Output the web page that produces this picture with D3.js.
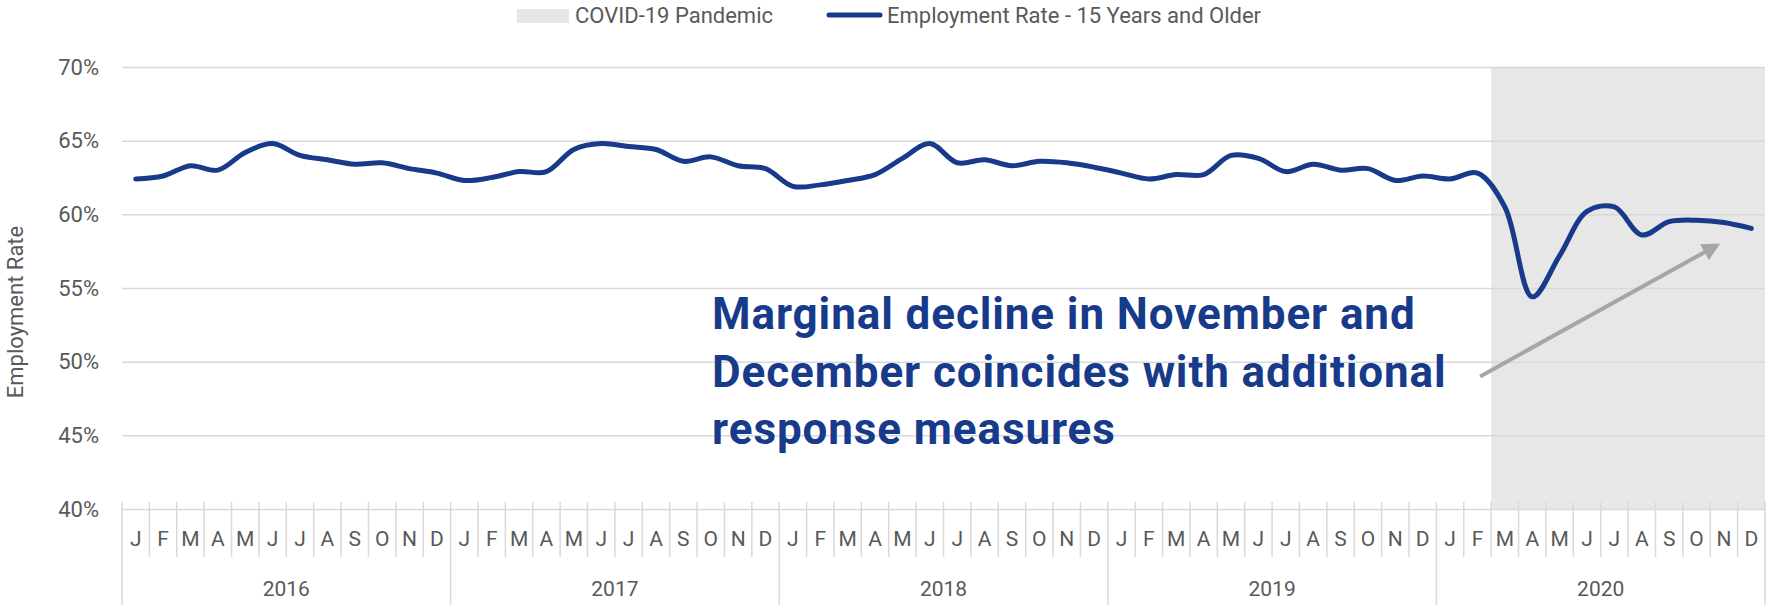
<!DOCTYPE html>
<html>
<head>
<meta charset="utf-8">
<script src="https://cdn.jsdelivr.net/npm/d3@7"></script>
<style>
body { margin: 0; background: #fff; }
text { font-family: Roboto, "Noto Sans", sans-serif; }
</style>
</head>
<body>
<div id="chart"></div>
<script>
const years = ["2016", "2017", "2018", "2019", "2020"];
const monthLetters = ["J", "F", "M", "A", "M", "J", "J", "A", "S", "O", "N", "D"];
const rate2016 = [62.4, 62.6, 63.3, 63.0, 64.2, 64.8, 64.0, 63.7, 63.4, 63.5, 63.1, 62.8];
const rate2017 = [62.3, 62.5, 62.9, 62.9, 64.4, 64.8, 64.6, 64.4, 63.6, 63.9, 63.3, 63.1];
const rate2018 = [61.9, 62.0, 62.3, 62.7, 63.8, 64.8, 63.5, 63.7, 63.3, 63.6, 63.5, 63.2];
const rate2019 = [62.8, 62.4, 62.7, 62.7, 64.0, 63.8, 62.9, 63.4, 63.0, 63.1, 62.3, 62.6];
const rate2020 = [62.4, 62.8, 60.5, 54.4, 57.2, 60.2, 60.5, 58.6, 59.5, 59.6, 59.45, 59.05];
const yTicks = [40, 45, 50, 55, 60, 65, 70];
const pandemicStart = "2020-2"; // March 2020
const seriesName = "Employment Rate - 15 Years and Older";
const shadeName = "COVID-19 Pandemic";
const noteLines = ["Marginal decline in November and", "December coincides with additional", "response measures"];

const W = 1767, H = 605;
const margin = { top: 67, right: 2, bottom: 96, left: 122 };
const grey = "#595959", gridCol = "#d9d9d9", blue = "#173a8a";

const ratesByYear = [rate2016, rate2017, rate2018, rate2019, rate2020];
const data = [];
years.forEach((yr, yi) => {
    ratesByYear[yi].forEach((v, mi) => {
        data.push({ key: yr + "-" + mi, year: yr, month: mi, rate: v });
    });
});

const svg = d3.select("#chart")
    .append("svg")
    .attr("width", W)
    .attr("height", H);

const x = d3.scaleBand()
    .domain(data.map(d => d.key))
    .range([margin.left, W - margin.right])
    .padding(0);
const y = d3.scaleLinear()
    .domain([40, 70])
    .range([H - margin.bottom, margin.top]);

// position along the month axis by (fractional) index
const xi = i => x.range()[0] + i * x.step();

// pandemic shading
svg.append("rect")
    .attr("x", x(pandemicStart))
    .attr("y", y(70))
    .attr("width", x.range()[1] - x(pandemicStart))
    .attr("height", y(40) - y(70))
    .attr("fill", "#e7e7e7");

// gridlines + y labels
const yAxis = svg.append("g")
    .attr("transform", `translate(${margin.left},0)`)
    .call(d3.axisLeft(y).tickValues(yTicks)
        .tickFormat(d => d + "%")
        .tickSize(-(x.range()[1] - x.range()[0]))
        .tickPadding(23));
yAxis.select(".domain").remove();
yAxis.selectAll("line").attr("stroke", gridCol).attr("stroke-width", 1.5);
yAxis.selectAll("text").attr("fill", grey).style("font-size", "22px");

svg.append("text")
    .attr("transform", `translate(23,${(y(40) + y(70)) / 2 + 24}) rotate(-90)`)
    .attr("text-anchor", "middle")
    .attr("fill", grey)
    .style("font-size", "22px")
    .text("Employment Rate");

// month axis
const base = y(40);
const xAxis = svg.append("g")
    .attr("transform", `translate(0,${base})`)
    .call(d3.axisBottom(x).tickSize(0).tickPadding(22)
        .tickFormat(k => monthLetters[+k.split("-")[1]]));
xAxis.select(".domain").remove();
xAxis.selectAll("text").attr("fill", grey).style("font-size", "21px");

const edges = data.map(d => ({ x: x(d.key), yearStart: d.month === 0 }));
edges.push({ x: x.range()[1], yearStart: true });
svg.append("g").selectAll("line")
    .data(edges)
    .join("line")
    .attr("x1", d => d.x).attr("x2", d => d.x)
    .attr("y1", base - 7)
    .attr("y2", d => d.yearStart ? H : base + 48)
    .attr("stroke", gridCol)
    .attr("stroke-width", 1.5);

svg.append("g").selectAll("text")
    .data(years)
    .join("text")
    .attr("x", (d, i) => xi(i * 12 + 6))
    .attr("y", base + 87)
    .attr("text-anchor", "middle")
    .attr("fill", grey)
    .style("font-size", "21px")
    .text(d => d);

// the line
const line = d3.line()
    .x(d => x(d.key) + x.bandwidth() / 2)
    .y(d => y(d.rate))
    .curve(d3.curveCatmullRom.alpha(0.5));
svg.append("path")
    .datum(data)
    .attr("d", line)
    .attr("fill", "none")
    .attr("stroke", blue)
    .attr("stroke-width", 5)
    .attr("stroke-linecap", "round")
    .attr("stroke-linejoin", "round");

// annotation
const note = svg.append("text")
    .attr("fill", blue)
    .style("font-size", "44px")
    .style("font-weight", "bold")
    .style("letter-spacing", "0.9px");
noteLines.forEach((t, i) => {
    note.append("tspan")
        .attr("x", xi(21.55))
        .attr("y", y(52.2) + i * 57.5)
        .text(t);
});

svg.append("defs").append("marker")
    .attr("id", "arrowhead")
    .attr("viewBox", "0 0 10 10")
    .attr("refX", 8).attr("refY", 5)
    .attr("markerWidth", 4.5).attr("markerHeight", 4.5)
    .attr("orient", "auto")
    .append("path")
    .attr("d", "M0,0L10,5L0,10Z")
    .attr("fill", "#a6a6a6");
svg.append("line")
    .attr("x1", xi(49.6)).attr("y1", y(49.0))
    .attr("x2", xi(58.25)).attr("y2", y(57.9))
    .attr("stroke", "#a6a6a6")
    .attr("stroke-width", 4)
    .attr("marker-end", "url(#arrowhead)");

// legend
const legend = svg.append("g").attr("transform", "translate(517,0)");
legend.append("rect")
    .attr("x", 0).attr("y", 9)
    .attr("width", 52).attr("height", 14)
    .attr("fill", "#e7e7e7");
legend.append("text")
    .attr("x", 58).attr("y", 23)
    .attr("fill", grey)
    .style("font-size", "22px")
    .text(shadeName);
legend.append("line")
    .attr("x1", 312).attr("x2", 363)
    .attr("y1", 15).attr("y2", 15)
    .attr("stroke", blue)
    .attr("stroke-width", 5)
    .attr("stroke-linecap", "round");
legend.append("text")
    .attr("x", 370).attr("y", 23)
    .attr("fill", grey)
    .style("font-size", "22px")
    .text(seriesName);
</script>
</body>
</html>
